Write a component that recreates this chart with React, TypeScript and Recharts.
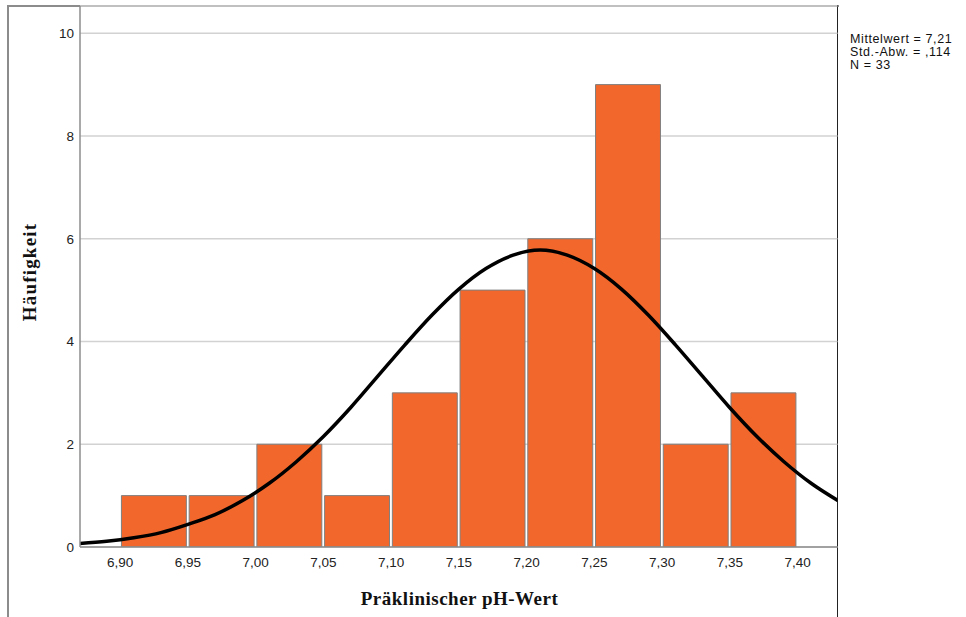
import React from "react";
import {
  ComposedChart,
  Bar,
  Line,
  XAxis,
  YAxis,
  CartesianGrid,
  Rectangle,
} from "recharts";

// histogram bins (width 0.05), centre of each bin
const binCenters = [6.925, 6.975, 7.025, 7.075, 7.125, 7.175, 7.225, 7.275, 7.325, 7.375];
const counts = [1, 1, 2, 1, 3, 5, 6, 9, 2, 3];
const binWidth = 0.05;

const xTicks = [6.9, 6.95, 7.0, 7.05, 7.1, 7.15, 7.2, 7.25, 7.3, 7.35, 7.4];
const yTicks = [0, 2, 4, 6, 8, 10];
const xDomain = [6.8703, 7.4295];

// normal curve
const curveX = [
  6.87, 6.89, 6.91, 6.93, 6.95, 6.97, 6.99, 7.01, 7.03, 7.05, 7.07, 7.09, 7.11, 7.13, 7.15,
  7.17, 7.19, 7.21, 7.23, 7.25, 7.27, 7.29, 7.31, 7.33, 7.35, 7.37, 7.39, 7.41, 7.43,
];
const curveY = [
  0.07, 0.11, 0.18, 0.28, 0.44, 0.63, 0.9, 1.24, 1.66, 2.15, 2.71, 3.32, 3.93, 4.51, 5.02,
  5.42, 5.68, 5.78, 5.68, 5.42, 5.02, 4.51, 3.93, 3.32, 2.71, 2.15, 1.66, 1.24, 0.9,
];

const statLines = ["Mittelwert = 7,21", "Std.-Abw. = ,114", "N = 33"];

const barData = binCenters.map((x, i) => ({ x, count: counts[i] }));
const curveData = curveX.map((x, i) => ({ x, y: curveY[i] }));

const fmt = (v: number) => v.toFixed(2).replace(".", ",");

const W = 966;
const H = 617;
const margin = { top: 6, right: 128.5, bottom: 0, left: 0 };
const yAxisWidth = 80;
const plotWidth = W - margin.left - margin.right - yAxisWidth;
// one bin in pixels, minus a small white gap between neighbouring bars
const binPx = (plotWidth * binWidth) / (xDomain[1] - xDomain[0]) - 2.8;

// recharts squeezes bars on a numeric axis, so widen them around their centre
const HistBar = (props: any) => {
  const { x, y, width, height } = props;
  const cx = x + width / 2;
  return (
    <Rectangle
      x={cx - binPx / 2}
      y={y}
      width={binPx}
      height={height}
      fill="#f2682c"
      stroke="#7f7f7f"
      strokeWidth={1}
    />
  );
};

export default function App() {
  return (
    <div
      style={{
        position: "absolute",
        left: 0,
        top: 0,
        width: W,
        height: H,
        background: "#fff",
        overflow: "hidden",
        fontFamily: "'Liberation Sans', Arial, sans-serif",
      }}
    >
      {/* outer frame */}
      <div
        style={{
          position: "absolute",
          left: 7,
          top: 5,
          width: 830,
          height: 640,
          borderLeft: "2px solid #8c8c8c",
          borderTop: "2px solid #8c8c8c",
        }}
      />
      <div
        style={{
          position: "absolute",
          left: 836.5,
          top: 5,
          width: 1.5,
          height: 640,
          background: "#222",
        }}
      />

      <div style={{ position: "absolute", left: 0, top: 0 }}>
        <ComposedChart width={W} height={H} data={barData} margin={margin}>
          <CartesianGrid vertical={false} stroke="#d2d2d2" strokeWidth={1.5} />
          <XAxis
            dataKey="x"
            type="number"
            domain={xDomain}
            ticks={xTicks}
            interval={0}
            allowDataOverflow
            tickFormatter={fmt}
            height={70}
            tickLine={false}
            tickSize={8}
            tickMargin={2}
            axisLine={{ stroke: "#8c8c8c", strokeWidth: 1.5 }}
            tick={{ fill: "#222", fontSize: 13.5 }}
          />
          <YAxis
            type="number"
            domain={[0, 10.53]}
            ticks={yTicks}
            allowDataOverflow
            width={yAxisWidth}
            tickLine={false}
            tickSize={4}
            tickMargin={2}
            axisLine={{ stroke: "#8c8c8c", strokeWidth: 1.5 }}
            tick={{ fill: "#222", fontSize: 13.5 }}
          />
          <Bar
            dataKey="count"
            fill="#f2682c"
            shape={HistBar}
            isAnimationActive={false}
          />
          <Line
            data={curveData}
            dataKey="y"
            type="monotone"
            stroke="#000"
            strokeWidth={3.5}
            dot={false}
            activeDot={false}
            isAnimationActive={false}
          />
        </ComposedChart>
      </div>

      {/* stats */}
      <div
        style={{
          position: "absolute",
          left: 850,
          top: 33,
          fontSize: 12.5,
          lineHeight: "13px",
          letterSpacing: 0.6,
          color: "#111",
          whiteSpace: "pre",
        }}
      >
        {statLines.map((s) => (
          <div key={s}>{s}</div>
        ))}
      </div>

      {/* axis titles */}
      <div
        style={{
          position: "absolute",
          left: 459.5,
          top: 588,
          transform: "translateX(-50%)",
          fontFamily: "'Liberation Serif', 'Times New Roman', serif",
          fontWeight: "bold",
          fontSize: 19,
          letterSpacing: 0.5,
          whiteSpace: "nowrap",
          color: "#111",
        }}
      >
        Präklinischer pH-Wert
      </div>
      <div
        style={{
          position: "absolute",
          left: 30,
          top: 272,
          transform: "translate(-50%, -50%) rotate(-90deg)",
          fontFamily: "'Liberation Serif', 'Times New Roman', serif",
          fontWeight: "bold",
          fontSize: 19,
          letterSpacing: 1.2,
          whiteSpace: "nowrap",
          color: "#111",
        }}
      >
        Häufigkeit
      </div>
    </div>
  );
}
